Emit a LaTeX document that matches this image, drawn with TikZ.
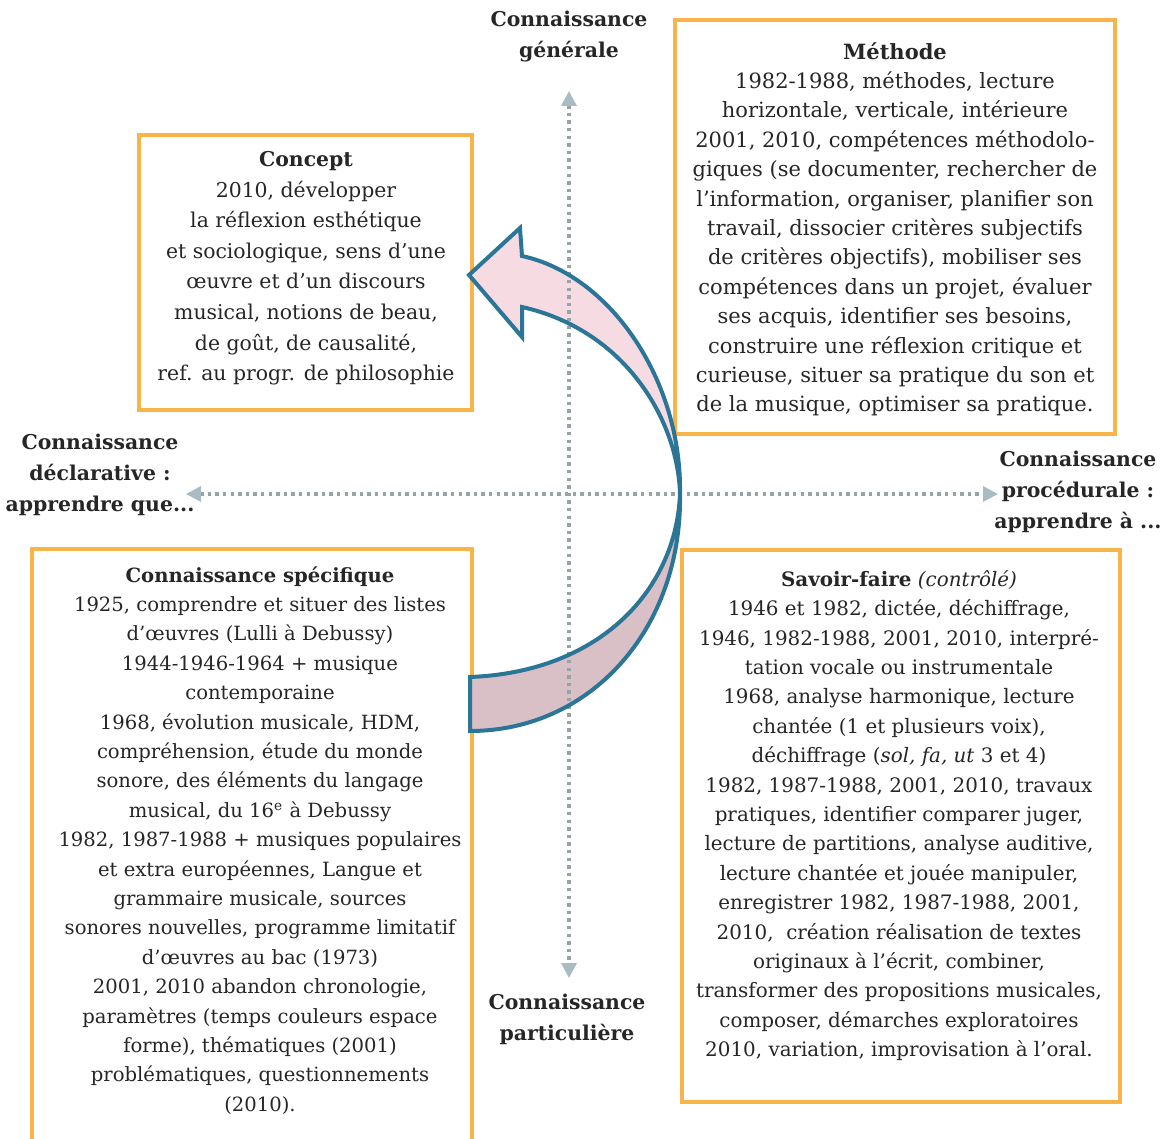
\documentclass[tikz,border=0pt]{standalone}
\usepackage{fontspec}
\setmainfont{DejaVu Serif}
\usetikzlibrary{arrows.meta}

\definecolor{boxorange}{HTML}{F8B449}
\definecolor{axisgray}{HTML}{97A3A9}
\definecolor{tipgray}{HTML}{A9BBC3}
\definecolor{arrowblue}{HTML}{2B7596}
\definecolor{pinklight}{HTML}{F6DBE3}
\definecolor{pinkdark}{HTML}{D9BFC6}
\definecolor{inkgray}{HTML}{262626}

\tikzset{
  boxframe/.style={draw=boxorange, line width=2pt, fill=white, inner sep=0pt},
  boxtext/.style={align=center, inner sep=0pt, text=inkgray, font=\fontsize{10.2}{14.7}\selectfont},
  axislabel/.style={align=center, inner sep=0pt, text=inkgray, font=\fontsize{10.2}{15.4}\selectfont\bfseries},
  axisline/.style={draw=axisgray, line width=1.7pt, dash pattern=on 1.7pt off 2.1pt,
    {Triangle[length=7.5pt,width=7.5pt,color=tipgray]}-{Triangle[length=7.5pt,width=7.5pt,color=tipgray]}},
}

\begin{document}
\begin{tikzpicture}[x=0.5pt,y=-0.5pt]
            \useasboundingbox (0,0) rectangle (1173,1139);
            % Boxes
            \node[boxframe, anchor=north west, minimum width=166.5pt, minimum height=137.5pt] (concept) at (137,133) {};
            \node[boxframe, anchor=north west, minimum width=220pt, minimum height=207pt] (methode) at (673,18) {};
            \node[boxframe, anchor=north west, minimum width=220pt, minimum height=310pt] (specifique) at (30,547) {};
            \node[boxframe, anchor=north west, minimum width=219pt, minimum height=276pt] (savoirfaire) at (680,548) {};
            % Box texts
            \node[boxtext, anchor=north, font=\fontsize{10.2}{15.3}\selectfont] (concepttxt) at (306,151) {\textbf{Concept}\\
              2010, développer\\
              la réflexion esthétique\\
              et sociologique, sens d’une\\
              œuvre et d’un discours\\
              musical, notions de beau,\\
              de goût, de causalité,\\
              ref. au progr. de philosophie};
            \node[boxtext, anchor=north, font=\fontsize{10.5}{14.7}\selectfont] (methodetxt) at (895,42) {\textbf{Méthode}\\
              1982-1988, méthodes, lecture\\
              horizontale, verticale, intérieure\\
              2001, 2010, compétences méthodolo-\\
              giques (se documenter, rechercher de\\
              l’information, organiser, planifier son\\
              travail, dissocier critères subjectifs\\
              de critères objectifs), mobiliser ses\\
              compétences dans un projet, évaluer\\
              ses acquis, identifier ses besoins,\\
              construire une réflexion critique et\\
              curieuse, situer sa pratique du son et\\
              de la musique, optimiser sa pratique.};
            \node[boxtext, anchor=north, font=\fontsize{9.8}{14.7}\selectfont] (specifiquetxt) at (260,566) {\textbf{Connaissance spécifique}\\
              1925, comprendre et situer des listes\\
              d’œuvres (Lulli à Debussy)\\
              1944-1946-1964 + musique\\
              contemporaine\\
              1968, évolution musicale, HDM,\\
              compréhension, étude du monde\\
              sonore, des éléments du langage\\
              musical, du 16\textsuperscript{e} à Debussy\\
              1982, 1987-1988 + musiques populaires\\
              et extra européennes, Langue et\\
              grammaire musicale, sources\\
              sonores nouvelles, programme limitatif\\
              d’œuvres au bac (1973)\\
              2001, 2010 abandon chronologie,\\
              paramètres (temps couleurs espace\\
              forme), thématiques (2001)\\
              problématiques, questionnements\\
              (2010).};
            \node[boxtext, anchor=north, font=\fontsize{9.95}{14.7}\selectfont] (savoirfairetxt) at (899,570) {\textbf{Savoir-faire} \textit{(contrôlé)}\\
              1946 et 1982, dictée, déchiffrage,\\
              1946, 1982-1988, 2001, 2010, interpré-\\
              tation vocale ou instrumentale\\
              1968, analyse harmonique, lecture\\
              chantée (1 et plusieurs voix),\\
              déchiffrage (\textit{sol, fa, ut} 3 et 4)\\
              1982, 1987-1988, 2001, 2010, travaux\\
              pratiques, identifier comparer juger,\\
              lecture de partitions, analyse auditive,\\
              lecture chantée et jouée manipuler,\\
              enregistrer 1982, 1987-1988, 2001,\\
              2010,~ création réalisation de textes\\
              originaux à l’écrit, combiner,\\
              transformer des propositions musicales,\\
              composer, démarches exploratoires\\
              2010, variation, improvisation à l’oral.};
            % Curved arrow
            \coordinate (tip) at (469,275);
            \coordinate (barbU) at (520,228);
            \coordinate (shU) at (522,256);
            \coordinate (shL) at (522,307);
            \coordinate (barbL) at (522,337);
            \coordinate (turn) at (680,494);
            \coordinate (tailU) at (470,677);
            \coordinate (tailL) at (470,731);
            \fill[pinklight] (tip) -- (barbU) -- (shU) .. controls (610,275) and (682,380) .. (turn)
              .. controls (678,420) and (625,330) .. (shL) -- (barbL) -- cycle;
            \fill[pinkdark] (turn) .. controls (682,630) and (590,731) .. (tailL) -- (tailU)
              .. controls (600,672) and (676,590) .. (turn) -- cycle;
            % Axes
            \coordinate (ntop) at (569,91);
            \coordinate (nbot) at (569,978);
            \coordinate (wleft) at (186,494);
            \coordinate (eright) at (998,494);
            \draw[axisline] (ntop) -- (nbot);
            \draw[axisline] (wleft) -- (eright);
            \draw[arrowblue, line width=2pt] (tip) -- (barbU) -- (shU) .. controls (610,275) and (682,380) .. (turn)
              .. controls (682,630) and (590,731) .. (tailL) -- (tailU)
              .. controls (600,672) and (676,590) .. (turn)
              .. controls (678,420) and (625,330) .. (shL) -- (barbL) -- cycle;
            % Axis labels
            \node[axislabel, anchor=north] (general) at (569,11) {Connaissance\\générale};
            \node[axislabel, anchor=north] (declarative) at (100,434) {Connaissance\\déclarative :\\apprendre que...};
            \node[axislabel, anchor=north] (procedurale) at (1078,451) {Connaissance\\procédurale :\\apprendre à ...};
            \node[axislabel, anchor=north] (particuliere) at (567,994) {Connaissance\\particulière};
        \end{tikzpicture}
\end{document}
